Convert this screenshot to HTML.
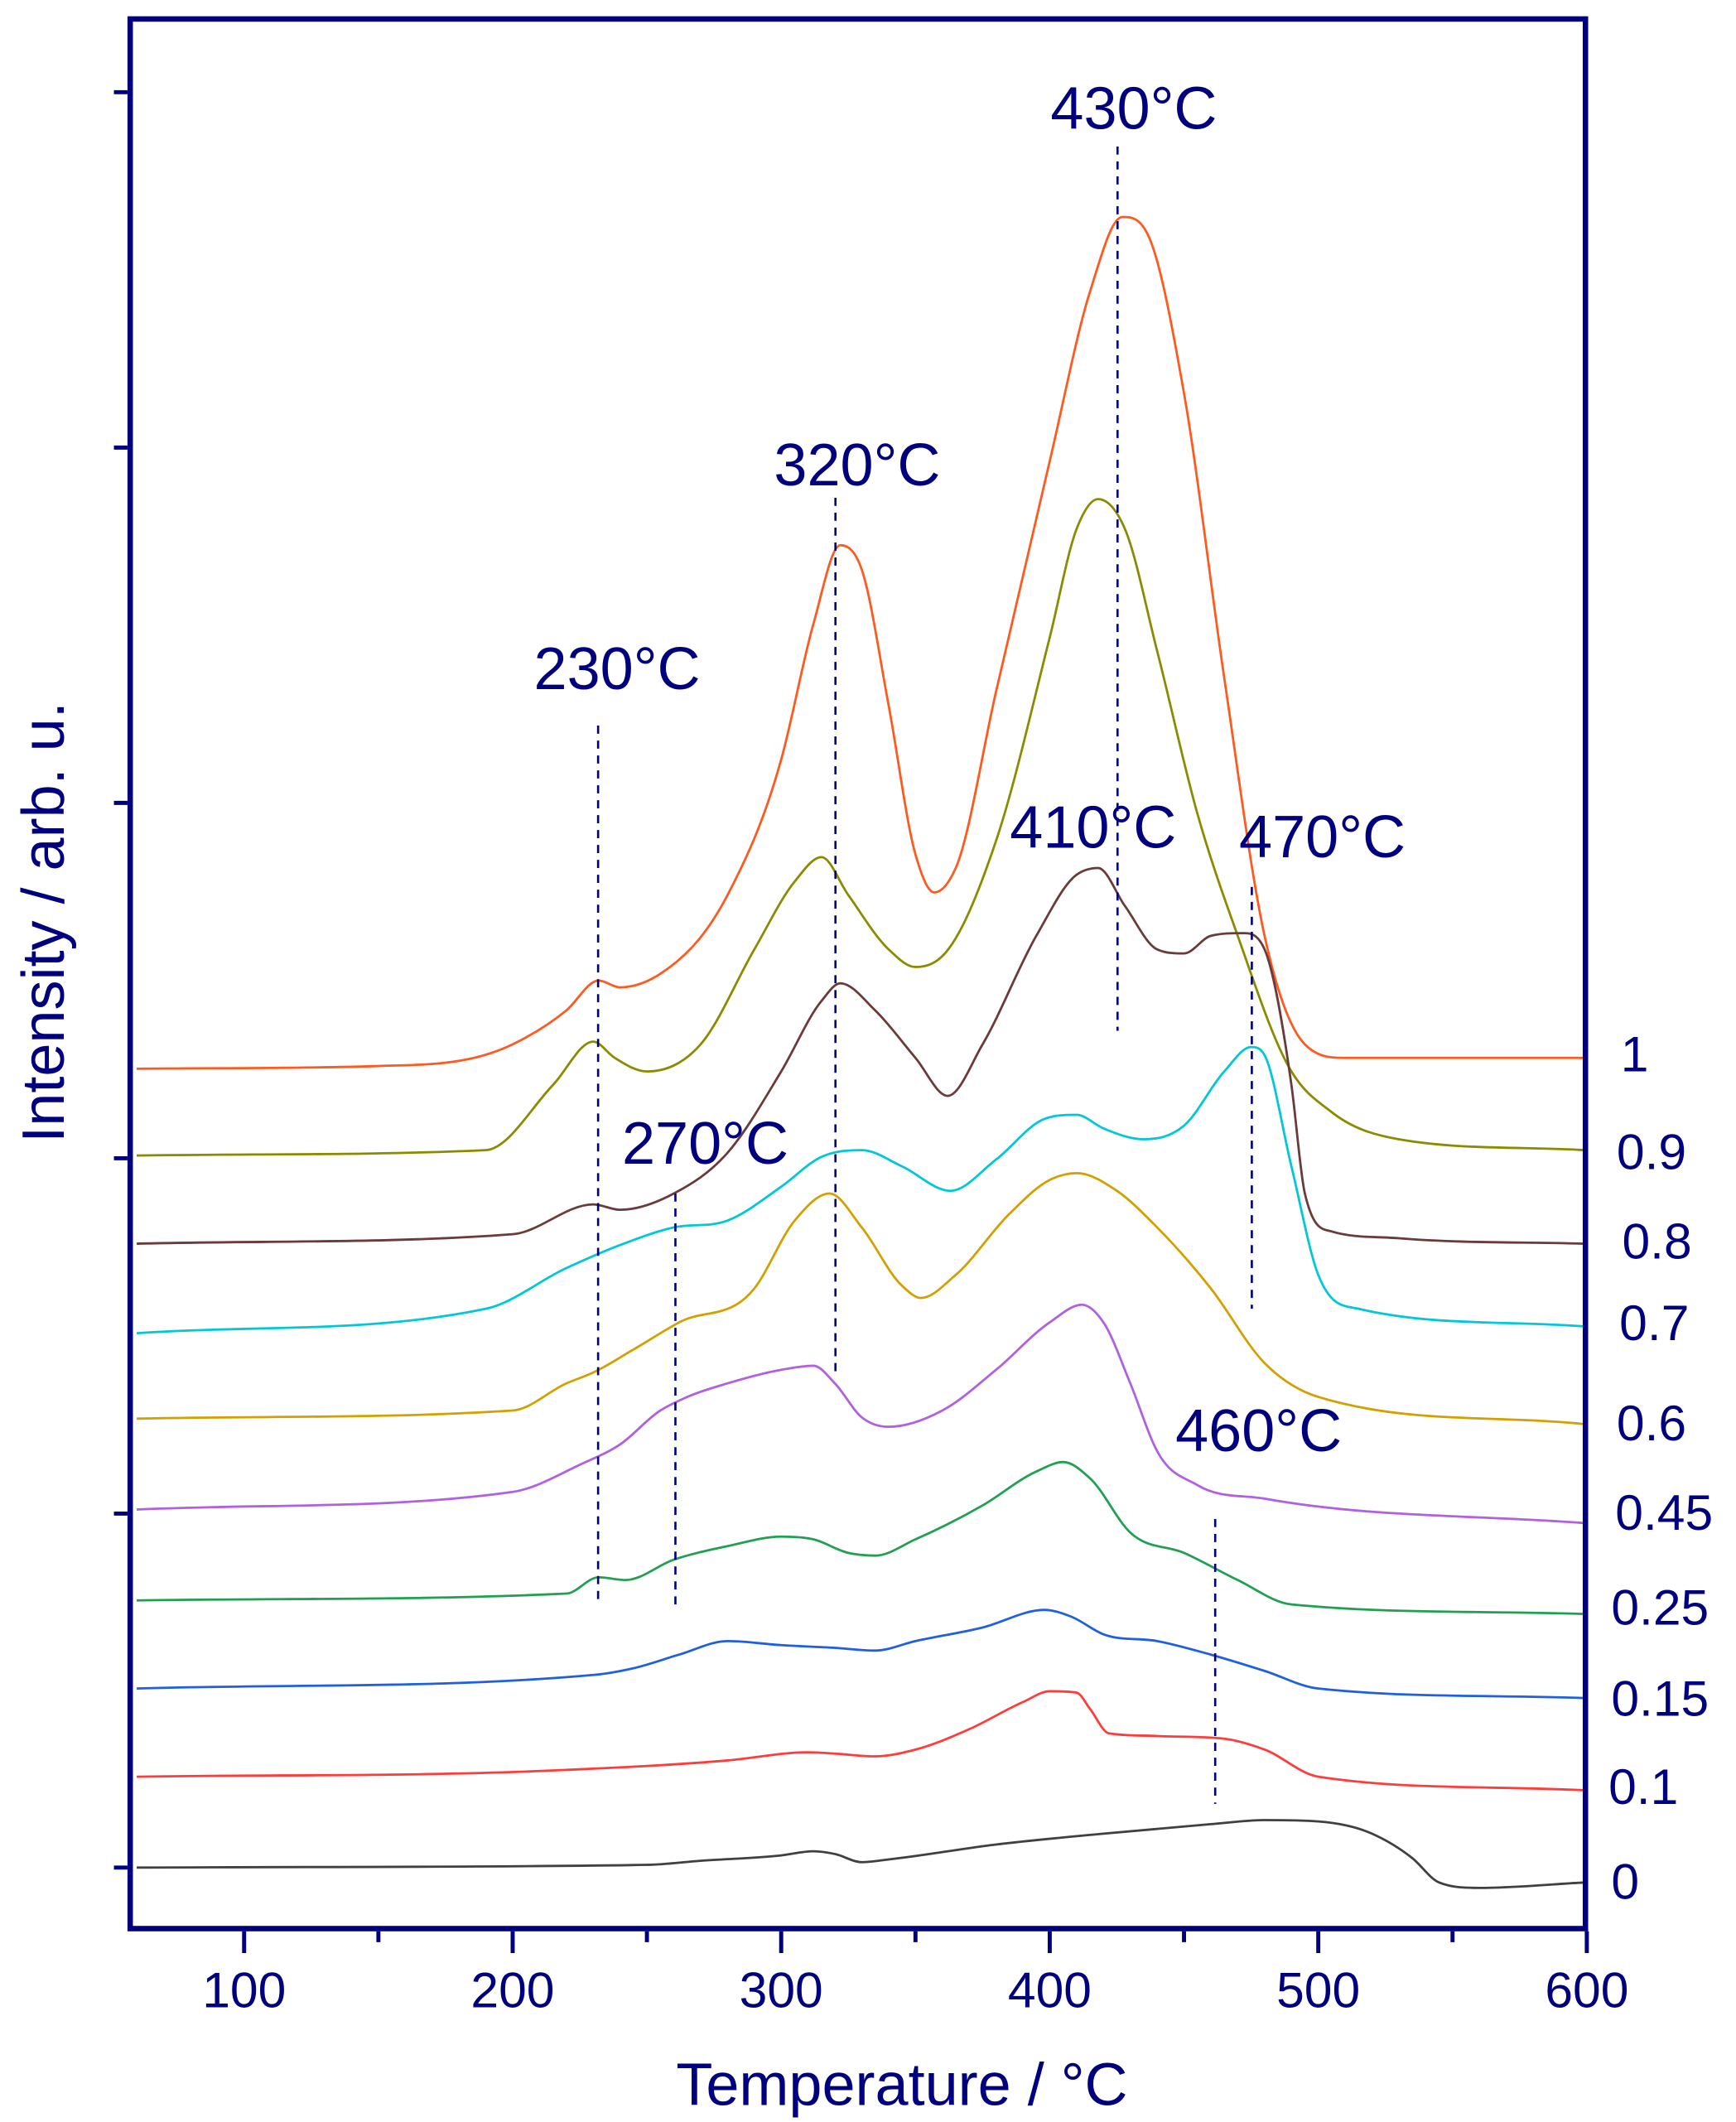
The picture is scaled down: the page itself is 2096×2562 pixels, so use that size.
<!DOCTYPE html>
<html><head><meta charset="utf-8"><style>
html,body{margin:0;padding:0;background:#fff;}
svg{display:block;}
text{font-family:"Liberation Sans",Arial,sans-serif;fill:#00007f;}
</style></head><body>
<svg id="s" width="2096" height="2562" viewBox="0 0 1280 1564.6" preserveAspectRatio="none" xmlns="http://www.w3.org/2000/svg">
<rect x="0" y="0" width="1280" height="1565" fill="#fff"/>
<g id="curves" fill="none" stroke-width="1.7"></g>
<g stroke="#00007f" stroke-width="1.6" stroke-dasharray="6,5" fill="none">
<line x1="441" y1="535" x2="441" y2="1182"/>
<line x1="616" y1="367" x2="616" y2="1015"/>
<line x1="824" y1="108" x2="824" y2="760"/>
<line x1="923" y1="654" x2="923" y2="965"/>
<line x1="498" y1="880" x2="498" y2="1188"/>
<line x1="896" y1="1120" x2="896" y2="1330"/>
</g>
<g stroke="#00007f" fill="none">
<rect x="96" y="14" width="1073" height="1408" stroke-width="4"/>
<g id="ticks" stroke-width="3"></g>
</g>
<g font-size="44" text-anchor="middle">
<text x="455" y="508">230°C</text>
<text x="632" y="358">320°C</text>
<text x="836" y="95">430°C</text>
<text x="806" y="625">410°C</text>
<text x="975" y="632">470°C</text>
<text x="520" y="858">270°C</text>
<text x="928" y="1070">460°C</text>
</g>
<g font-size="37">
<text x="1195" y="790">1</text>
<text x="1192" y="862">0.9</text>
<text x="1196" y="928">0.8</text>
<text x="1194" y="988">0.7</text>
<text x="1192" y="1062">0.6</text>
<text x="1191" y="1128">0.45</text>
<text x="1188" y="1198">0.25</text>
<text x="1188" y="1265">0.15</text>
<text x="1186" y="1330">0.1</text>
<text x="1188" y="1400">0</text>
</g>
<g font-size="37" text-anchor="middle">
<text x="180" y="1480">100</text><text x="378" y="1480">200</text><text x="576" y="1480">300</text>
<text x="774" y="1480">400</text><text x="972" y="1480">500</text><text x="1170" y="1480">600</text>
</g>
<text x="665" y="1552" font-size="44" text-anchor="middle">Temperature / °C</text>
<text transform="translate(47,680) rotate(-90)" font-size="44" text-anchor="middle">Intensity / arb. u.</text>
</svg>
<script>
var X=function(T){return 180+(T-100)*1.98;};
var data=[
["#ff5a1e",[[60,788],[150,786],[200,770],[220,745],[232,723],[240,728],[255,718],[280,660],[300,560],[312,460],[322,402],[330,420],[340,520],[350,630],[357,658],[365,640],[380,510],[400,340],[415,215],[427,160],[437,175],[450,290],[465,500],[480,690],[495,770],[510,780],[600,780]]],
["#8b8b00",[[60,852],[190,848],[215,800],[230,768],[238,780],[250,790],[270,770],[290,700],[305,650],[315,632],[325,660],[340,700],[350,713],[360,705],[380,620],[400,470],[410,390],[418,368],[428,390],[440,480],[455,600],[470,690],[490,790],[505,820],[530,840],[600,848]]],
["#6b3a3a",[[60,917],[200,910],[230,888],[240,892],[260,880],[280,850],[300,790],[315,738],[322,725],[335,745],[350,780],[362,808],[375,770],[395,690],[410,645],[418,640],[428,668],[440,700],[450,703],[460,690],[472,688],[480,700],[490,800],[495,880],[505,908],[530,913],[600,917]]],
["#00c8d8",[[60,983],[190,965],[220,935],[240,918],[260,905],[280,900],[300,875],[315,853],[330,848],[345,860],[363,878],[380,855],[398,825],[410,822],[420,832],[435,840],[450,830],[465,790],[475,772],[480,778],[490,860],[500,940],[515,965],[600,978]]],
["#d4a000",[[60,1046],[200,1040],[220,1020],[230,1012],[245,995],[262,975],[290,950],[305,900],[318,880],[330,905],[345,948],[352,957],[365,940],[385,895],[400,870],[410,865],[425,878],[440,905],[460,950],[480,1005],[500,1030],[600,1050]]],
["#b060e0",[[60,1113],[200,1100],[225,1080],[240,1065],[255,1040],[265,1030],[280,1020],[300,1010],[312,1007],[320,1020],[330,1045],[340,1052],[360,1040],[380,1010],[400,975],[412,962],[420,975],[430,1020],[440,1070],[455,1095],[480,1105],[600,1123]]],
["#20a050",[[60,1180],[220,1175],[232,1163],[242,1165],[260,1150],[280,1140],[300,1133],[312,1135],[325,1145],[335,1147],[350,1135],[375,1110],[395,1085],[405,1078],[415,1090],[430,1130],[450,1145],[470,1165],[490,1183],[600,1190]]],
["#1f60e0",[[60,1245],[230,1235],[245,1230],[262,1220],[280,1210],[300,1213],[320,1215],[335,1217],[350,1210],[375,1200],[398,1187],[408,1192],[420,1205],[440,1210],[460,1220],[480,1232],[500,1245],[600,1252]]],
["#ff3c3c",[[60,1310],[220,1305],[280,1298],[310,1292],[320,1293],[335,1295],[350,1290],[370,1275],[390,1255],[400,1247],[410,1248],[415,1260],[422,1278],[440,1280],[465,1282],[480,1290],[500,1310],[600,1320]]],
["#404040",[[60,1377],[250,1375],[270,1372],[300,1368],[312,1365],[320,1367],[330,1373],[340,1371],[380,1360],[420,1352],[460,1345],[480,1342],[500,1343],[520,1352],[535,1370],[545,1388],[560,1392],[600,1388]]]
];
var g=document.getElementById('curves'),ns="http://www.w3.org/2000/svg";
data.forEach(function(c){
 var p=c[1].map(function(a){return [X(a[0]),a[1]];});
 if(p[0][0]<97)p[0][0]=97; var n=p.length-1; p[n][0]=1168;
 var m=[];
 for(var i=0;i<=n;i++){
  if(i==0)m[i]=(p[1][1]-p[0][1])/(p[1][0]-p[0][0]);
  else if(i==n)m[i]=(p[n][1]-p[n-1][1])/(p[n][0]-p[n-1][0]);
  else{
   var d0=(p[i][1]-p[i-1][1])/(p[i][0]-p[i-1][0]),d1=(p[i+1][1]-p[i][1])/(p[i+1][0]-p[i][0]);
   if(d0*d1<=0)m[i]=0;else{var h0=p[i][0]-p[i-1][0],h1=p[i+1][0]-p[i][0];m[i]=(d0*h1+d1*h0)/(h0+h1);
    var lim=3*Math.min(Math.abs(d0),Math.abs(d1));if(Math.abs(m[i])>lim)m[i]=lim*Math.sign(m[i]);}
  }
 }
 var d="M"+p[0][0]+","+p[0][1];
 for(var i=0;i<n;i++){
  var dx=(p[i+1][0]-p[i][0])/3;
  d+=" C"+(p[i][0]+dx)+","+(p[i][1]+m[i]*dx)+" "+(p[i+1][0]-dx)+","+(p[i+1][1]-m[i+1]*dx)+" "+p[i+1][0]+","+p[i+1][1];
 }
 var e=document.createElementNS(ns,"path");e.setAttribute("d",d);e.setAttribute("stroke",c[0]);g.appendChild(e);
});
var t=document.getElementById('ticks'),s="";
for(var T=100;T<=600;T+=50){var x=X(T);s+="M"+x+",1424 L"+x+","+(T%100?1432:1440)+" ";}
[68,330,592,854,1116,1377].forEach(function(y){s+="M94,"+y+" L84,"+y+" ";});
var e=document.createElementNS(ns,"path");e.setAttribute("d",s);t.appendChild(e);
</script>
</body></html>
